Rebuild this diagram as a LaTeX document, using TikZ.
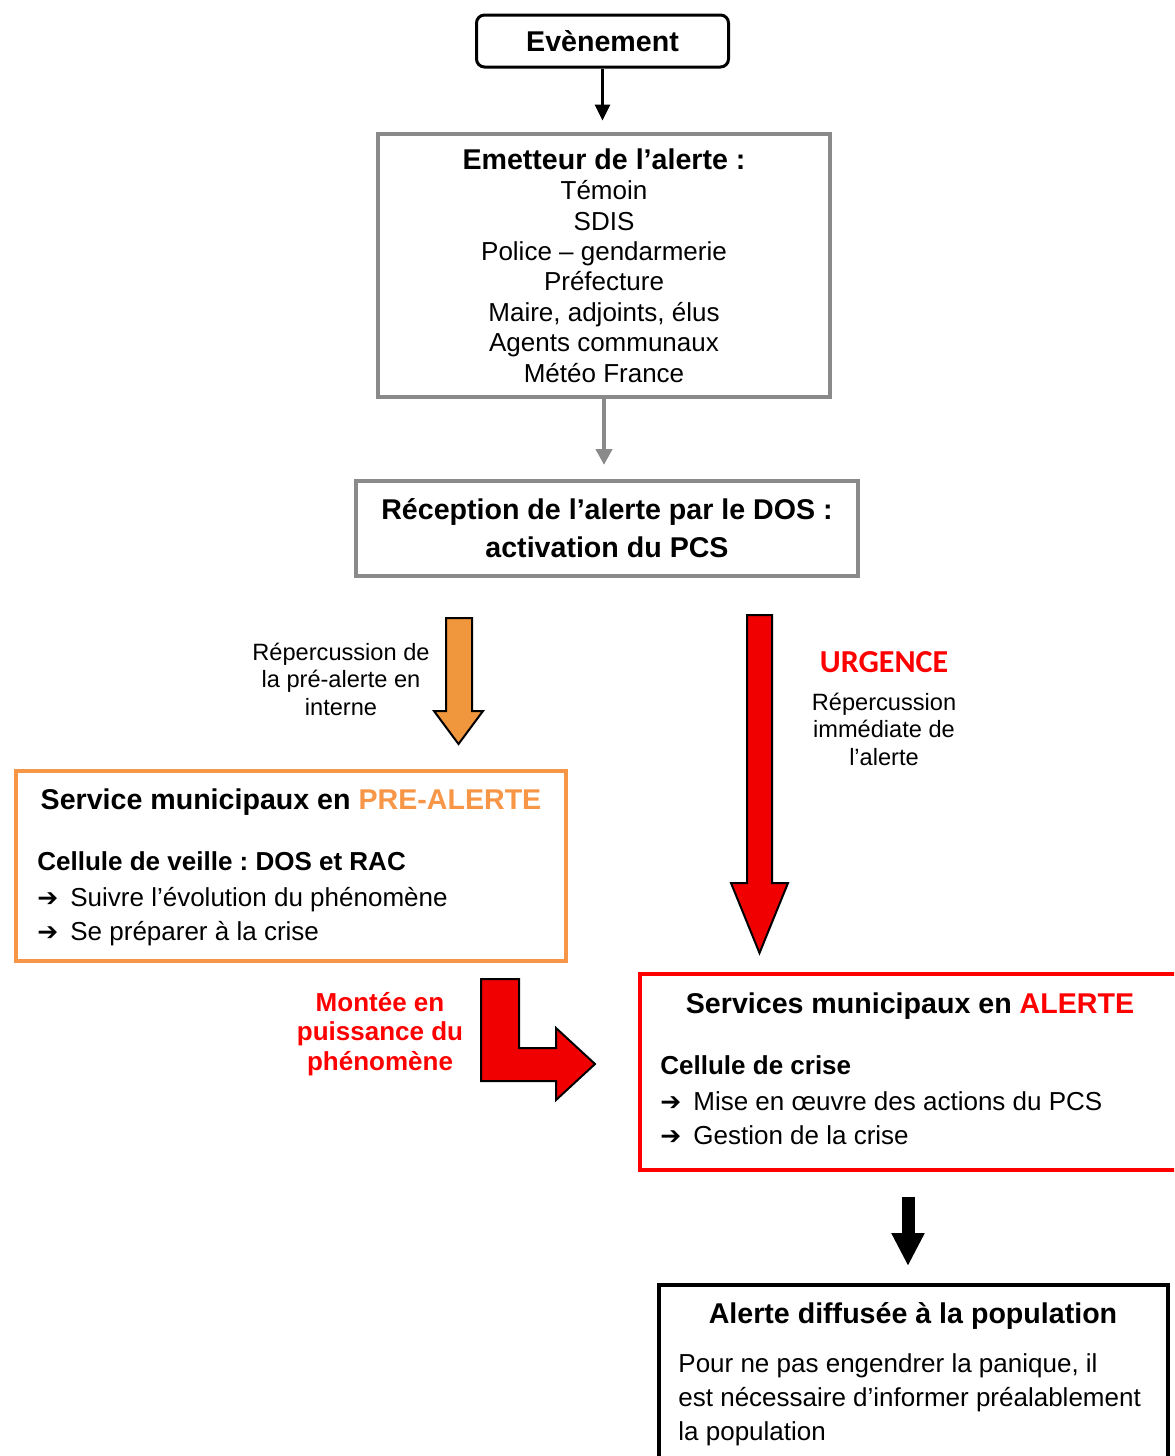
\documentclass[tikz,border=0pt]{standalone}
\usepackage{fontspec}
\setmainfont{Liberation Sans}
\newfontfamily\calfont{Carlito}
\newfontfamily\symfont{DejaVu Sans}
\usetikzlibrary{arrows.meta}
\frenchspacing
\definecolor{orangeC}{RGB}{247,150,70}
\definecolor{orangeF}{RGB}{240,150,60}
\definecolor{redC}{RGB}{255,0,0}
\definecolor{redF}{RGB}{240,0,0}
\definecolor{grayC}{RGB}{138,138,138}
\newcommand{\myreg}{\fontsize{13}{15.2}\selectfont}
\newcommand{\mytitle}{\fontsize{14.3}{15.5}\selectfont\bfseries}
\newcommand{\mysmall}{\fontsize{11.8}{13.75}\selectfont}
\newcommand{\mybul}{\makebox[16.5pt][l]{{\symfont\bfseries\fontsize{12.5}{12.5}\selectfont ➔}}}
\begin{document}
\begin{tikzpicture}[x=0.5pt,y=-0.5pt,
  evbox/.style={draw, line width=1.5pt, rounded corners=4pt, inner sep=0pt,
    minimum width=126pt, minimum height=26pt, font=\mytitle},
  graybox/.style={draw=grayC, line width=2pt, inner sep=0pt, align=center},
  plainbox/.style={line width=2pt, inner sep=0pt},
  txt/.style={inner sep=0pt, font=\myreg},
  blockarrow/.style={draw=black, line width=1pt, line join=miter},
  thinarrow/.style={line width=1.5pt, -{Triangle[width=7.5pt,length=8pt]}}
]
\useasboundingbox (0,0) rectangle (1174,1456);
\clip (0,0) rectangle (1174,1456);

% top boxes
\node[evbox] (evt) at (602.5,41) {Evènement};
\node[graybox, minimum width=226pt, minimum height=131.5pt, font=\myreg] (emet) at (604,265.5)
  {{\mytitle Emetteur de l’alerte :}\\ Témoin\\ SDIS\\ Police – gendarmerie\\ Préfecture\\ Maire, adjoints, élus\\ Agents communaux\\ Météo France};
\node[graybox, minimum width=251pt, minimum height=47.5pt, font=\fontsize{14.3}{19}\selectfont\bfseries] (recep) at (607,528.5)
  {Réception de l’alerte par le DOS :\\ activation du PCS};

\draw[thinarrow] (evt.south) -- ++(0,52);
\draw[line width=2pt, grayC, -{Triangle[width=8pt,length=8pt]}] (emet.south) -- ++(0,66);

% orange block arrow
\draw[blockarrow, fill=orangeF] (446,618) -- (472,618) -- (472,711) -- (483,711) -- (458.5,744) -- (434,711) -- (446,711) -- cycle;
\node[txt, font=\mysmall, align=center] (lblpre) at (341,679) {Répercussion de\\ la pré-alerte en\\ interne};

% red long block arrow
\draw[blockarrow, fill=redF] (747,615) -- (772,615) -- (772,883) -- (788,883) -- (759.5,953) -- (731,883) -- (747,883) -- cycle;
\node[inner sep=0pt, font=\calfont\bfseries\fontsize{16}{18}\selectfont, text=redC] (urg) at (884,662) {URGENCE};
\node[txt, font=\mysmall, align=center] (lblurg) at (884,729) {Répercussion\\ immédiate de\\ l’alerte};

% pre-alerte box
\node[plainbox, draw=orangeC, minimum width=275pt, minimum height=95pt] (pre) at (291,866) {};
\node[txt, font=\mytitle, anchor=base] (preT) at (291,809) {Service municipaux en \textcolor{orangeC}{PRE-ALERTE}};
\node[txt, font=\myreg\bfseries, anchor=base west] (preA) at (37,870) {Cellule de veille : DOS et RAC};
\node[txt, anchor=base west] (preB) at (37,906) {\mybul Suivre l’évolution du phénomène};
\node[txt, anchor=base west] (preC) at (37,940) {\mybul Se préparer à la crise};

% L-shaped arrow
\draw[blockarrow, fill=redF] (481,979) -- (519,979) -- (519,1048) -- (556,1048) -- (556,1028) -- (595,1064) -- (556,1100) -- (556,1081) -- (481,1081) -- cycle;
\node[txt, font=\fontsize{13}{14.75}\selectfont\bfseries, text=redC, align=center] (montee) at (380,1034) {Montée en\\ puissance du\\ phénomène};

% alerte box
\node[plainbox, draw=redC, minimum width=273pt, minimum height=98pt] (alerte) at (913,1072) {};
\node[txt, font=\mytitle, anchor=base] (alT) at (910,1013) {Services municipaux en \textcolor{redC}{ALERTE}};
\node[txt, font=\myreg\bfseries, anchor=base west] (alA) at (660,1074) {Cellule de crise};
\node[txt, anchor=base west] (alB) at (660,1110) {\mybul Mise en œuvre des actions du PCS};
\node[txt, anchor=base west] (alC) at (660,1144) {\mybul Gestion de la crise};

% final box
\node[plainbox, draw=black, minimum width=254.5pt, minimum height=97.5pt] (final) at (913.5,1382.5) {};
\node[txt, font=\mytitle, anchor=base] (fT) at (913,1323) {Alerte diffusée à la population};
\node[txt, anchor=base west] (fA) at (678,1372) {Pour ne pas engendrer la panique, il};
\node[txt, anchor=base west] (fB) at (678,1406) {est nécessaire d’informer préalablement};
\node[txt, anchor=base west] (fC) at (678,1440) {la population};

\coordinate (k1) at (908,1197);
\coordinate (k2) at (908,1266);
\draw[line width=6.5pt, -{Triangle[width=15.5pt,length=16.5pt]}] (k1) -- (k2);
\end{tikzpicture}
\end{document}
